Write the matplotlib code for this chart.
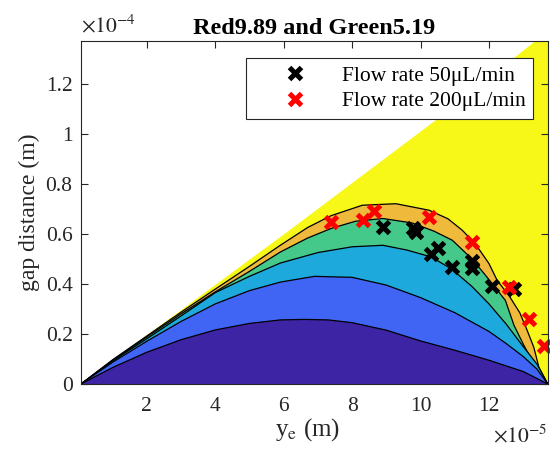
#!/usr/bin/env python3

import matplotlib
matplotlib.use('Agg')
import matplotlib.pyplot as plt
from matplotlib.ticker import FuncFormatter, MultipleLocator

# values, x in units of 1e-5 m, y in units of 1e-4 m
edge_x = [0.07, 6.17, 10.45, 13.36, 13.9]
edge_y = [0.0, 0.614, 1.054, 1.37, 1.45]

c1_x = [0.07, 1, 2, 3, 4, 5, 5.9, 6.6, 7.3, 8, 9, 10, 11, 12, 13, 13.72]
c1_y = [0.0, 0.066, 0.127, 0.177, 0.216, 0.242, 0.256, 0.258, 0.256, 0.245, 0.215, 0.172, 0.135, 0.095, 0.05, 0.0]

c2_x = [0.07, 1, 2, 3, 4, 5, 5.9, 6.9, 8, 9, 10, 11, 12, 12.5, 13, 13.4, 13.72]
c2_y = [0.0, 0.087, 0.171, 0.25, 0.32, 0.373, 0.407, 0.43, 0.426, 0.395, 0.345, 0.285, 0.21, 0.162, 0.11, 0.06, 0.0]

c3_x = [0.07, 1, 2, 3, 4, 5, 5.9, 7, 8, 8.9, 9.6, 10.3, 10.9, 11.5, 12, 12.5, 13, 13.4, 13.72]
c3_y = [0.0, 0.092, 0.181, 0.272, 0.365, 0.43, 0.483, 0.525, 0.548, 0.554, 0.535, 0.508, 0.46, 0.39, 0.32, 0.24, 0.15, 0.08, 0.0]

c4_x = [0.07, 1, 2, 3, 4, 5, 5.9, 6.7, 7.4, 8.1, 8.9, 9.76, 10.4, 10.93, 11.5, 11.9, 12.48, 12.73, 13.0, 13.31, 13.72]
c4_y = [0.0, 0.095, 0.188, 0.28, 0.368, 0.45, 0.527, 0.583, 0.622, 0.65, 0.661, 0.643, 0.61, 0.574, 0.5, 0.434, 0.334, 0.235, 0.16, 0.08, 0.0]

c5_x = [0.07, 1, 2, 3, 4, 5, 5.9, 6.7, 7.38, 8.3, 9.28, 10.25, 10.8, 11.22, 11.6, 12, 12.24, 12.6, 12.9, 13.1, 13.31, 13.46, 13.72]
c5_y = [0.0, 0.097, 0.192, 0.287, 0.379, 0.47, 0.554, 0.625, 0.672, 0.714, 0.72, 0.694, 0.66, 0.614, 0.56, 0.481, 0.414, 0.35, 0.285, 0.22, 0.147, 0.067, 0.0]

black_x = [8.89, 9.78, 9.88, 10.3, 10.5, 10.93, 11.5, 11.5, 12.1, 12.73]
black_y = [0.627, 0.625, 0.607, 0.52, 0.545, 0.467, 0.49, 0.465, 0.39, 0.378]
red_x = [7.38, 8.31, 8.65, 10.25, 11.49, 12.58, 13.17, 13.62]
red_y = [0.647, 0.654, 0.69, 0.667, 0.567, 0.387, 0.26, 0.15]

band_colors = ['#f7f817', '#efb93c', '#45c98a', '#1ea9dc', '#4065f5', '#3c24a4']

SX, SY = 1e-5, 1e-4


def sx(v):
    return [a * SX for a in v]


def sy(v):
    return [a * SY for a in v]


def main():
    plt.rcParams['font.family'] = ['Liberation Serif', 'DejaVu Serif']
    plt.rcParams['mathtext.fontset'] = 'stix'
    ink = '#262626'

    fig = plt.figure(figsize=(5.5, 4.55), dpi=100)
    ax = fig.add_axes([0.147, 0.156, 0.849, 0.754])

    # yellow wedge, then each level painted over it
    x_max = c5_x[-1]
    ax.fill(sx(edge_x + [x_max]), sy(edge_y + [0.0]), color=band_colors[0], lw=0, zorder=1)
    curves = [(c5_x, c5_y), (c4_x, c4_y), (c3_x, c3_y), (c2_x, c2_y), (c1_x, c1_y)]
    for i, (cx, cy) in enumerate(curves):
        ax.fill(sx(cx), sy(cy), color=band_colors[i + 1], lw=0, zorder=2 + i)
        ax.plot(sx(cx), sy(cy), color='k', lw=0.9, zorder=2 + i, solid_joinstyle='round')

    ax.plot(sx(black_x), sy(black_y), 'x', color='k', ms=9, mew=3.6, ls='none',
            label='Flow rate 50\u03bcL/min', zorder=10, clip_on=False)
    ax.plot(sx(red_x), sy(red_y), 'x', color='r', ms=9, mew=3.6, ls='none',
            label='Flow rate 200\u03bcL/min', zorder=11, clip_on=False)

    ax.set_xlim(0.07 * SX, 13.72 * SX)
    ax.set_ylim(0, 1.37 * SY)
    ax.xaxis.set_major_locator(MultipleLocator(2 * SX))
    ax.yaxis.set_major_locator(MultipleLocator(0.2 * SY))
    ax.xaxis.set_major_formatter(FuncFormatter(lambda v, p: '%g' % round(v / SX, 6)))
    ax.yaxis.set_major_formatter(FuncFormatter(lambda v, p: '%g' % round(v / SY, 6)))
    ax.tick_params(direction='in', length=5, width=0.8, top=True, right=True,
                   labelsize=15.5, colors=ink)
    ax.tick_params(axis='x', pad=9)
    ax.tick_params(axis='y', pad=6)
    for s in ax.spines.values():
        s.set_color(ink)
        s.set_linewidth(0.8)
        s.set_zorder(20)

    ax.text(0.0, 1.01, r'$\times10^{-4}$', transform=ax.transAxes, fontsize=15.5,
            color=ink, ha='left', va='bottom')
    ax.text(1.0, -0.12, r'$\times10^{-5}$', transform=ax.transAxes, fontsize=15.5,
            color=ink, ha='right', va='top')

    ax.set_title('Red9.89 and Green5.19', fontsize=17.5, fontweight='bold', pad=5)
    ax.set_xlabel(r'y$_{\mathrm{e}}$ (m)', fontsize=18, color=ink, labelpad=0)
    ax.xaxis.set_label_coords(0.485, -0.095)
    ax.set_ylabel('gap distance (m)', fontsize=17, color=ink, labelpad=4)

    leg = ax.legend(loc='upper right', bbox_to_anchor=(0.968, 0.950), borderaxespad=0,
                    fontsize=15.5, frameon=True, fancybox=False, borderpad=0.35,
                    labelspacing=0.25, handletextpad=0.2, handlelength=3.9)
    leg.get_frame().set_edgecolor(ink)
    leg.get_frame().set_linewidth(0.8)
    leg.get_frame().set_alpha(1)
    leg.set_zorder(30)

    fig.savefig('out.png', dpi=100)
    plt.close(fig)


if __name__ == '__main__':
    main()
